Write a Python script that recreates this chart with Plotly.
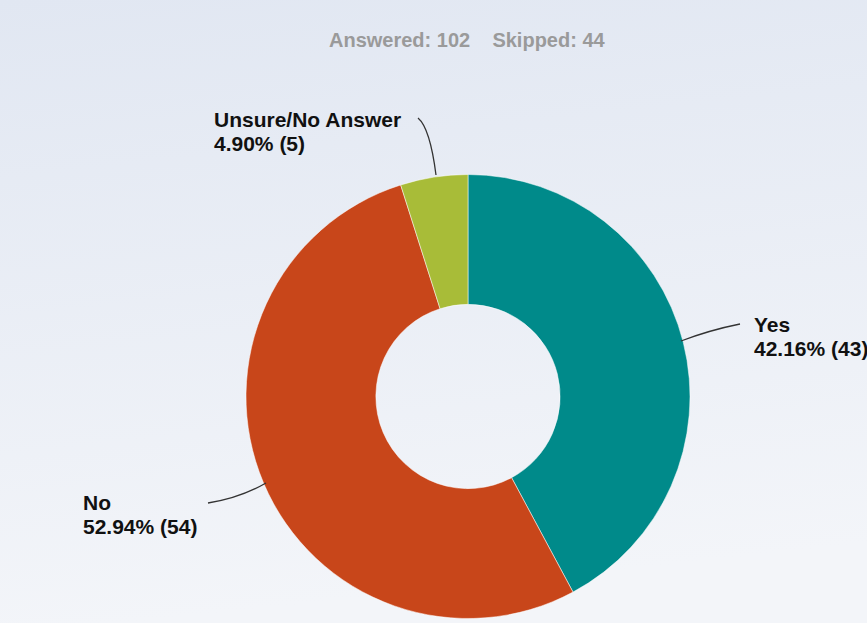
import plotly.graph_objects as go
import base64

# ---- data ----
labels = ["Yes", "No", "Unsure/No Answer"]
percents = [42.16, 52.94, 4.90]
counts = [43, 54, 5]
colors = ["#008a8a", "#c8461a", "#a8bc38"]
answered = 102
skipped = 44

W, H = 867, 623

def px(x):
    return x / W

def py(y):
    return 1 - y / H

# background gradient as svg data uri
svg = (
    '<svg xmlns="http://www.w3.org/2000/svg" width="867" height="623">'
    '<defs><linearGradient id="g" x1="0" y1="0" x2="0.15" y2="1">'
    '<stop offset="0" stop-color="#e1e7f2"/><stop offset="1" stop-color="#f3f5f9"/>'
    '</linearGradient></defs><rect width="867" height="623" fill="url(#g)"/></svg>'
)
bg_uri = "data:image/svg+xml;base64," + base64.b64encode(svg.encode()).decode()

cx, cy, r = 468, 396.5, 222

fig = go.Figure(
    go.Pie(
        labels=labels,
        values=counts,
        marker=dict(colors=colors, line=dict(color="rgba(255,255,255,0.5)", width=1)),
        hole=0.415,
        sort=False,
        direction="clockwise",
        rotation=0,
        textinfo="none",
        hoverinfo="label+percent+value",
        domain=dict(x=[px(cx - r), px(cx + r)], y=[py(cy + r), py(cy - r)]),
        showlegend=False,
    )
)

font_lbl = dict(family="Liberation Sans, Arial, sans-serif", size=21, color="#111111")

label_pos = {
    "Unsure/No Answer": (212, 106),
    "Yes": (752, 311),
    "No": (81, 489),
}
line_gap = 24
annotations = []
for lab, pct, cnt in zip(labels, percents, counts):
    x0, y0 = label_pos[lab]
    for i, t in enumerate([lab, f"{pct:.2f}% ({cnt})"]):
        annotations.append(
            dict(
                x=px(x0), y=py(y0 + i * line_gap), xref="paper", yref="paper",
                xanchor="left", yanchor="top", align="left",
                text=f"<b>{t}</b>",
                showarrow=False, font=font_lbl,
            )
        )

annotations.append(
    dict(
        x=px(467), y=py(40), xref="paper", yref="paper",
        xanchor="center", yanchor="middle",
        text=f"<b>Answered: {answered}</b>&nbsp;&nbsp;&nbsp;&nbsp;<b>Skipped: {skipped}</b>",
        showarrow=False,
        font=dict(family="Liberation Sans, Arial, sans-serif", size=20, color="#9a9a9a"),
    )
)

def path(pts):
    s = "M {} {}".format(px(pts[0][0]), py(pts[0][1]))
    s += " Q {} {} {} {}".format(px(pts[1][0]), py(pts[1][1]), px(pts[2][0]), py(pts[2][1]))
    return s

leaders = [
    [(436, 175), (430, 128), (418, 118)],
    [(681, 341), (710, 330), (740, 324)],
    [(266, 483), (240, 498), (208, 503)],
]
shapes = [
    dict(type="path", xref="paper", yref="paper", path=path(p),
         line=dict(color="#333333", width=1.3))
    for p in leaders
]

fig.update_layout(
    width=W, height=H,
    margin=dict(l=0, r=0, t=0, b=0),
    paper_bgcolor="#eaeef5",
    plot_bgcolor="rgba(0,0,0,0)",
    annotations=annotations,
    shapes=shapes,
    images=[dict(source=bg_uri, xref="paper", yref="paper", x=0, y=1,
                 sizex=1, sizey=1, xanchor="left", yanchor="top",
                 sizing="stretch", layer="below")],
)

fig.write_html("out.html")
